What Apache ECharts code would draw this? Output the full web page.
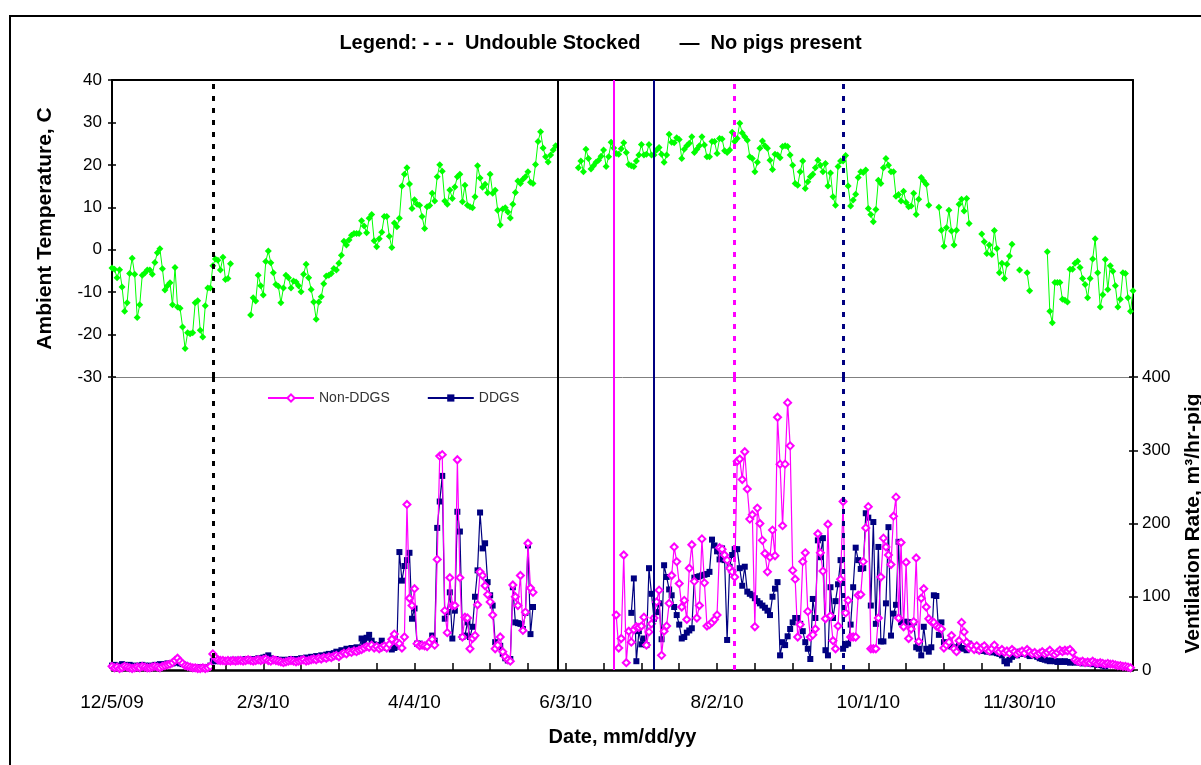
<!DOCTYPE html>
<html><head><meta charset="utf-8">
<script src="https://cdn.jsdelivr.net/npm/echarts@6/dist/echarts.min.js"></script>
<style>
html,body{margin:0;padding:0;background:#fff;overflow:hidden;}
#frame{position:absolute;left:9px;top:15px;width:1260px;height:800px;border:2px solid #000;box-sizing:border-box;}
#chart{position:absolute;left:0;top:0;width:1201px;height:765px;}
</style></head><body>
<div id="frame"></div>
<div id="chart"></div>
<script>
// ---- data ----
const startDate = [2009, 12, 5];          // first day of the daily series
const dayCount = 405;                      // axis runs to 1/14/11
const tickDays = 15;
const labelDays = 60;

// Ambient temperature, C (daily, null = missing)
const temperature = [
-4.3,-4.6,-6.6,-4.7,-8.8,-14.5,-12.5,-5.6,-2.0,-5.8,
-16.0,-13.0,-6.0,-5.5,-4.8,-4.8,-5.8,-3.0,-0.7,0.2,
-4.5,-9.5,-8.5,-7.8,-13.0,-4.2,-13.5,-13.8,-18.2,-23.3,
-19.6,-19.8,-19.6,-12.5,-12.0,-19.0,-20.6,-13.2,-9.0,-9.0,
-3.8,-2.2,-2.5,-4.8,-1.8,-7.0,-6.8,-3.3,null,null,
null,null,null,null,null,-15.4,-11.3,-12.1,-6.0,-8.5,
-10.7,-2.8,-0.3,-3.1,-5.4,-8.2,-8.6,-12.5,-9.0,-6.0,
-6.6,-9.0,-7.4,-7.6,-8.5,-9.9,-5.8,-3.4,-6.6,-9.4,
-12.3,-16.4,-12.3,-11.1,-8.0,-6.2,-6.0,-5.6,-4.4,-4.8,
-3.2,-1.3,2.0,1.1,2.3,3.4,3.8,3.8,3.8,6.8,
5.6,4.0,7.4,8.3,2.1,0.7,2.6,4.1,7.8,7.8,
3.2,0.5,6.3,5.4,7.4,15.0,17.8,19.3,15.5,9.7,
11.8,10.7,10.5,7.8,5.0,10.1,10.4,13.3,11.5,17.2,
20.0,18.5,11.5,10.7,14.1,12.1,14.8,17.2,17.8,11.3,
15.2,10.5,10.1,9.9,12.5,19.8,16.9,14.7,15.4,13.4,
17.8,13.3,14.0,9.3,5.8,9.6,9.9,8.9,7.5,10.7,
13.5,16.2,15.6,16.6,17.2,18.4,15.9,15.6,20.1,25.5,
27.8,24.0,21.9,20.7,22.3,23.5,24.5,null,null,null,
null,null,null,null,null,19.3,20.9,18.4,23.7,21.5,
19.0,19.8,20.6,21.1,22.0,23.5,19.6,21.9,25.3,24.0,
22.7,22.5,23.8,25.2,22.9,20.1,19.8,19.6,20.9,22.3,
24.8,22.3,22.5,24.8,22.3,22.3,23.5,24.1,22.5,20.6,
22.3,27.2,25.3,25.2,26.4,26.0,21.5,23.7,24.5,25.1,
26.6,22.9,23.7,24.5,26.6,24.7,21.9,21.9,25.5,25.5,
22.7,26.2,26.1,23.3,22.9,23.5,27.7,25.5,26.2,29.8,
27.5,26.6,25.8,21.9,21.5,18.4,20.6,23.9,25.6,24.5,
23.9,21.1,18.9,22.5,22.3,21.7,24.3,24.5,24.3,22.3,
19.9,15.6,15.2,18.4,20.9,14.4,16.0,17.2,17.8,19.3,
21.1,19.9,18.4,20.3,15.0,18.1,12.5,10.5,19.6,20.9,
20.9,22.2,15.0,10.3,11.7,13.1,17.0,18.4,18.2,18.8,
9.7,8.3,6.6,9.5,16.4,15.6,19.3,21.5,19.9,18.4,
18.4,12.6,13.0,11.5,13.8,11.1,10.1,10.3,13.3,8.3,
11.9,17.0,16.2,15.4,10.5,null,null,null,10.0,4.6,
0.8,5.2,9.3,4.4,1.1,4.6,10.7,11.9,9.1,12.1,
6.2,null,null,null,null,3.7,1.9,-0.9,1.1,-1.1,
4.5,0.3,-5.4,-3.2,-6.8,-3.4,-1.5,1.3,null,null,
-4.8,null,null,-5.4,-9.7,null,null,null,null,null,
null,-0.5,-14.5,-17.2,-7.7,-7.7,-7.7,-11.7,-11.9,-12.3,
-4.6,-4.6,-3.2,-2.7,-4.2,-6.8,-8.2,-11.3,-6.8,-2.2,
2.6,-5.4,-13.5,-10.6,-2.3,-9.4,-3.8,-5.1,-8.5,-13.5,
-11.7,-5.4,-5.6,-11.3,-14.5,-9.7
];

// Ventilation rate, m3/hr-pig (daily, null = no pigs)
const nonDdgs = [
5,3,4,2,3,5,4,3,2,3, 4,3,5,4,3,3,4,5,4,3, 5,6,7,8,10,13,16,12,9,6, 5,4,3,3,2,2,3,2,3,5,
22,17,14,13,13,12,13,12,13,12, 13,13,12,13,14,13,12,13,14,13, 14,15,13,12,14,13,12,11,10,11,
12,13,12,11,12,13,14,12,13,14, 15,14,16,15,17,16,18,17,19,20, 18,21,23,22,25,24,26,25,27,28,
30,32,31,34,30,32,29,31,33,30, 35,42,49,38,36,30,45,226,98,88, 111,36,33,34,33,32,38,42,34,151,
292,294,81,51,126,88,88,287,126,45, 72,71,29,43,47,89,134,129,115,103, 93,75,29,34,45,25,18,14,12,116,
100,88,129,54,79,173,112,106,null,null,
null,null,null,null,null,null,null,null,null,null, null,null,null,null,null,null,null,null,null,null,
null,null,null,null,null,null,null,null,null,null,
75,30,43,157,10,53,38,55,59,58, 60,72,34,52,63,71,93,109,20,53, 60,91,129,168,148,118,86,95,69,139,
171,121,71,88,179,119,60,62,65,69, 75,167,165,157,150,139,134,127,285,288, 260,298,247,206,212,59,221,200,177,159,
134,154,191,156,345,281,197,281,365,306, 136,124,45,62,148,160,80,45,48,56, 186,160,135,70,199,74,40,29,60,124,
230,78,95,45,45,45,102,103,148,194, 223,29,29,29,71,127,180,168,157,144, 210,236,71,174,59,147,43,56,66,153,
39,98,111,86,70,66,65,60,58,56, 30,34,38,47,29,25,40,65,52,38, 30,33,28,33,27,30,33,28,26,29,
34,27,25,28,24,26,23,28,25,22, 24,26,23,28,25,22,24,21,23,25, 22,24,27,23,21,24,27,25,27,26,
28,24,14,12,11,12,10,11,10,12, 10,9,10,9,8,9,8,8,7,6, 6,5,5,4,3,null
];
const ddgs = [
6,7,5,6,8,7,6,7,5,6, 5,6,7,6,5,6,5,7,6,8, 7,8,9,8,9,10,11,9,8,7, 5,4,4,3,3,4,3,3,4,6,
12,12,13,12,13,13,12,13,14,13, 14,13,14,15,14,15,14,15,16,15, 17,18,20,16,14,15,14,13,14,13,
14,15,14,15,14,16,15,17,16,18, 17,19,18,20,19,21,22,20,23,25, 24,27,26,29,28,30,29,31,30,43,
38,44,48,40,35,33,34,40,32,30, 31,28,30,32,161,122,142,150,160,70, 84,36,36,33,33,34,36,47,40,194,
230,265,70,79,106,43,81,216,189,45, 47,65,45,59,100,136,215,166,173,120, 102,88,38,31,33,22,16,13,15,113,
65,64,63,56,78,170,49,86,null,null,
null,null,null,null,null,null,null,null,null,null, null,null,null,null,null,null,null,null,null,null,
null,null,null,null,null,null,null,null,null,null, null,null,null,null,null,null,
78,125,12,53,
35,43,34,139,104,70,79,91,42,143, 127,110,102,86,75,62,43,45,51,54, 57,126,127,128,129,130,131,134,178,170,
162,151,166,150,41,141,157,165,165,139, 115,141,107,104,102,98,94,91,88,85, 81,75,100,111,120,20,38,34,46,56,
65,71,71,63,53,38,29,15,97,71, 177,154,180,27,20,113,71,94,117,150, 29,34,36,62,113,167,150,138,139,214,
208,88,202,63,168,39,39,91,195,47, 77,89,175,65,65,66,65,65,65,31, 29,20,59,29,25,31,102,101,48,65,
38,34,33,32,31,30,33,30,29,27, 36,30,31,28,27,26,27,25,26,24, 25,23,22,20,12,9,14,18,22,20,
25,22,24,21,19,22,20,18,16,15, 14,13,12,13,12,11,12,11,12,11, 10,11,10,11,10,9,10,9,9,8,
8,7,7,6,5,null
];

// event dates (vertical reference lines)
const eventDates  = ['2010-01-14','2010-05-31','2010-06-22','2010-07-08','2010-08-09','2010-09-21'];
const eventGroups = ['all','all','nonddgs','ddgs','nonddgs','ddgs'];
const eventTypes  = ['undouble','nopigs','nopigs','nopigs','undouble','undouble'];

const titleText = 'Legend: - - -  Undouble Stocked       \u2014  No pigs present';
const tempName = 'Ambient Temperature, C';
const ventName = 'Ventilation Rate, m\u00b3/hr-pig';
const dateName = 'Date, mm/dd/yy';
const seriesNames = ['Non-DDGS', 'DDGS'];

// ---- helpers ----
const t0 = Date.UTC(startDate[0], startDate[1]-1, startDate[2]);
function dayOf(s){ const p = s.split('-').map(Number); return Math.round((Date.UTC(p[0],p[1]-1,p[2]) - t0)/86400000); }
function dateLabel(d){ const dt = new Date(t0 + d*86400000); return (dt.getUTCMonth()+1)+'/'+dt.getUTCDate()+'/'+String(dt.getUTCFullYear()).slice(2); }
const toPairs = arr => arr.map((v,i)=>[i, v===null ? '-' : v]);

const groupColor = {all:'#000000', nonddgs:'#FF00FF', ddgs:'#000080'};
function eventLines(){
  return eventDates.map((d,i)=>({
    xAxis: dayOf(d),
    lineStyle:{color: groupColor[eventGroups[i]], width: eventTypes[i]==='undouble'?3:2,
               type: eventTypes[i]==='undouble'?[5,7]:'solid'}
  }));
}
const ml = {silent:true, symbol:['none','none'], label:{show:false}, animation:false, data: eventLines()};

const FONT = 'Liberation Sans, Arial, sans-serif';
const chart = echarts.init(document.getElementById('chart'));
const xBase = {type:'value', min:0, max:dayCount, interval:tickDays, splitLine:{show:false}};
const noZero = {onZero:false};
const tickOnly = (grid, pos, mn, mx, step) => ({gridIndex:grid, type:'value', position:pos, min:mn, max:mx, interval:step,
  splitLine:{show:false}, axisLine:{show:false, onZero:false}, axisLabel:{show:false},
  axisTick:{show:true, inside:true, length:4, lineStyle:{color:'#000', width:1.5}}});
chart.setOption({
  animation:false,
  textStyle:{fontFamily:FONT},
  title:{text:titleText, left:'center', top:28, textStyle:{fontSize:20, fontWeight:'bold', color:'#000', fontFamily:FONT}},
  legend:{data:seriesNames, left:262, top:386, itemWidth:46, itemHeight:9, itemGap:37,
          textStyle:{fontSize:14, color:'#333', fontFamily:FONT}},
  grid:[
    {left:112, right:68, top:80, height:297, outerBoundsMode:'none', containLabel:false},
    {left:112, right:68, top:377, height:293, outerBoundsMode:'none', containLabel:false}
  ],
  xAxis:[
    Object.assign({}, xBase, {gridIndex:0, position:'bottom', axisLine:Object.assign({lineStyle:{color:'#808080', width:1}}, noZero), axisTick:{show:false}, axisLabel:{show:false}}),
    Object.assign({}, xBase, {gridIndex:1, position:'bottom',
      axisLine:Object.assign({lineStyle:{color:'#000', width:2.5}}, noZero),
      axisTick:{inside:true, length:7, lineStyle:{color:'#000', width:1.5}},
      axisLabel:{fontSize:19, color:'#000', margin:23, fontFamily:FONT,
        formatter:v=> (v % labelDays === 0 ? dateLabel(v) : '')},
      name:dateName, nameLocation:'middle', nameGap:57,
      nameTextStyle:{fontSize:20, fontWeight:'bold', color:'#000', fontFamily:FONT}}),
    Object.assign({}, xBase, {gridIndex:0, position:'top', axisLine:Object.assign({lineStyle:{color:'#000', width:2}}, noZero), axisTick:{show:false}, axisLabel:{show:false}})
  ],
  yAxis:[
    {gridIndex:0, type:'value', position:'left', min:-30, max:40, interval:10, splitLine:{show:false},
     axisLine:{show:true, onZero:false, lineStyle:{color:'#000', width:2}}, axisTick:{show:true, length:4, lineStyle:{color:'#000', width:1.5}},
     axisLabel:{fontSize:17, color:'#000', margin:10, fontFamily:FONT},
     name:tempName, nameLocation:'middle', nameGap:56, nameRotate:90,
     nameTextStyle:{fontSize:21, fontWeight:'bold', color:'#000', fontFamily:FONT}},
    {gridIndex:1, type:'value', position:'right', min:0, max:400, interval:100, splitLine:{show:false},
     axisLine:{show:true, onZero:false, lineStyle:{color:'#000', width:2}}, axisTick:{show:true, length:5, lineStyle:{color:'#000', width:1.5}},
     axisLabel:{fontSize:17, color:'#000', margin:9, fontFamily:FONT},
     name:ventName, nameLocation:'middle', nameGap:50, nameRotate:90,
     nameTextStyle:{fontSize:21, fontWeight:'bold', color:'#000', fontFamily:FONT}},
    {gridIndex:0, type:'value', position:'right', min:-30, max:40, splitLine:{show:false},
     axisLine:{show:true, onZero:false, lineStyle:{color:'#000', width:2}}, axisTick:{show:false}, axisLabel:{show:false}},
    {gridIndex:1, type:'value', position:'left', min:0, max:400, splitLine:{show:false},
     axisLine:{show:true, onZero:false, lineStyle:{color:'#000', width:2}}, axisTick:{show:false}, axisLabel:{show:false}},
    tickOnly(0, 'left', -30, 40, 10),
    tickOnly(1, 'right', 0, 400, 100)
  ],
  series:[
    {name:'Temperature', type:'line', xAxisIndex:0, yAxisIndex:0, data:toPairs(temperature),
     symbol:'diamond', symbolSize:7, color:'#00FF00', lineStyle:{width:1, color:'#00FF00'},
     itemStyle:{color:'#00FF00'}, markLine:ml, z:3},
    {name:seriesNames[1], type:'line', xAxisIndex:1, yAxisIndex:1, data:toPairs(ddgs),
     symbol:'rect', symbolSize:6, color:'#000080', lineStyle:{width:1.2, color:'#000080'},
     itemStyle:{color:'#000080'}, markLine:ml, z:3},
    {name:seriesNames[0], type:'line', xAxisIndex:1, yAxisIndex:1, data:toPairs(nonDdgs),
     symbol:'emptyDiamond', symbolSize:7, color:'#FF00FF', lineStyle:{width:1.2, color:'#FF00FF'},
     itemStyle:{color:'#FF00FF', borderColor:'#FF00FF', borderWidth:1.2}, z:4}
  ]
});
</script>
</body></html>
